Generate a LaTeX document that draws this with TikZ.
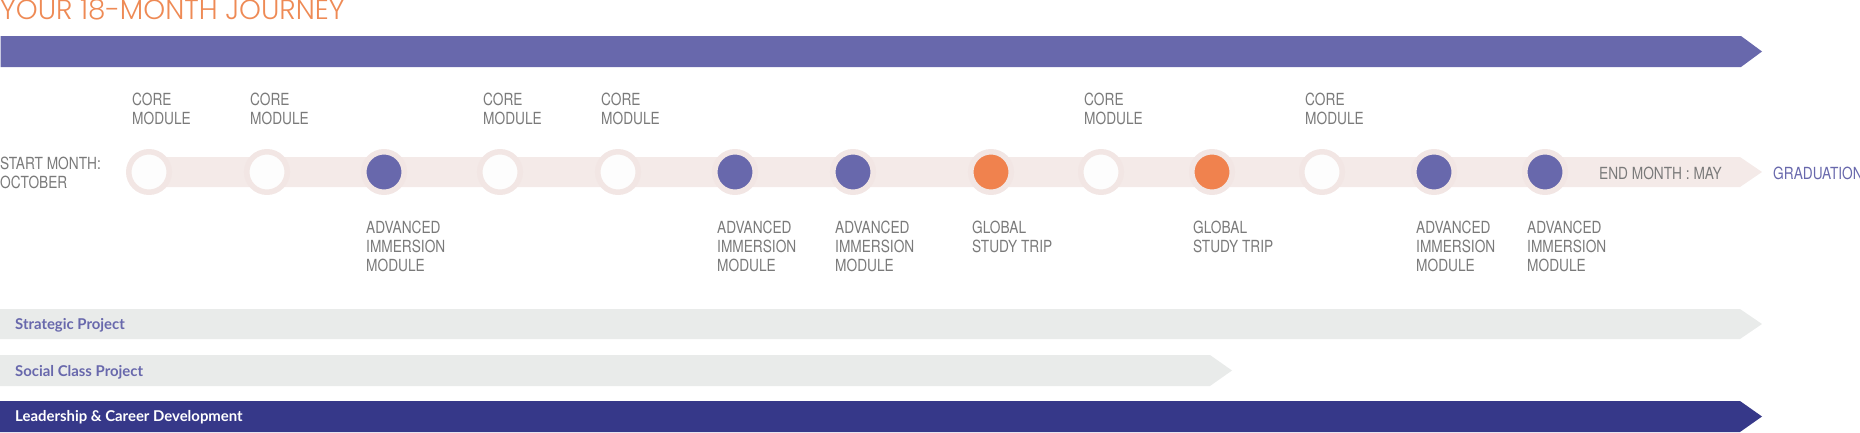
\documentclass[tikz,border=0pt]{standalone}
\usepackage{fontspec}
\newfontfamily\titlefont{Poppins Light}
\newfontfamily\condfont[FakeStretch=0.82]{TeX Gyre Heros}
\newfontfamily\barfont{Lato}
\definecolor{purp}{HTML}{6868AC}
\definecolor{darkpurp}{HTML}{363889}
\definecolor{titleorange}{HTML}{EE8A55}
\definecolor{dotorange}{HTML}{F0824E}
\definecolor{graytext}{HTML}{7A7A7A}
\definecolor{bandc}{HTML}{F4EAE8}
\definecolor{ringc}{HTML}{F2E6E4}
\definecolor{lightbar}{HTML}{E9EBEA}
\definecolor{dotwhite}{HTML}{FDFDFD}
\tikzset{
  milestone/.style={circle, draw=ringc, line width=5.5pt, minimum size=40.5pt, inner sep=0pt},
  whitedot/.style={milestone, fill=dotwhite},
  purpdot/.style={milestone, fill=purp},
  orangedot/.style={milestone, fill=dotorange},
  lbl/.style={font=\condfont\fontsize{16.7}{19}\selectfont, text=graytext, align=left, inner sep=0pt},
  toplbl/.style={lbl, anchor=north west},
  botlbl/.style={lbl, anchor=north west},
  bartext/.style={font=\barfont\bfseries\fontsize{14.9}{18}\selectfont, inner sep=0pt, anchor=base west},
}
\begin{document}
\begin{tikzpicture}[x=1pt,y=-1pt]
\useasboundingbox (0,0) rectangle (1860,432);
% title
\node[font=\titlefont\fontsize{27.8}{30}\selectfont, text=titleorange, inner sep=0pt, anchor=base west] (title) at (0,19.8) {YOUR 18-MONTH JOURNEY};
% top bar
\fill[purp] (0.5,36) -- (1741,36) -- (1762,51.5) -- (1741,67) -- (0.5,67) -- cycle;
% band
\fill[bandc] (149,157) -- (1740,157) -- (1762,172) -- (1740,187) -- (149,187) -- cycle;
% milestones
\node[whitedot]  (c1)  at (149,172) {};
\node[whitedot]  (c2)  at (267,172) {};
\node[purpdot]   (c3)  at (384,172) {};
\node[whitedot]  (c4)  at (500,172) {};
\node[whitedot]  (c5)  at (618,172) {};
\node[purpdot]   (c6)  at (735,172) {};
\node[purpdot]   (c7)  at (853,172) {};
\node[orangedot] (c8)  at (991,172) {};
\node[whitedot]  (c9)  at (1101,172) {};
\node[orangedot] (c10) at (1212,172) {};
\node[whitedot]  (c11) at (1322,172) {};
\node[purpdot]   (c12) at (1434,172) {};
\node[purpdot]   (c13) at (1545,172) {};
% top labels
\node[toplbl] (t1)  at (132,93)  {CORE\\MODULE};
\node[toplbl] (t2)  at (250,93)  {CORE\\MODULE};
\node[toplbl] (t4)  at (483,93)  {CORE\\MODULE};
\node[toplbl] (t5)  at (601,93)  {CORE\\MODULE};
\node[toplbl] (t9)  at (1084,93) {CORE\\MODULE};
\node[toplbl] (t11) at (1305,93) {CORE\\MODULE};
% bottom labels
\node[botlbl] (b3)  at (366,221)  {ADVANCED\\IMMERSION\\MODULE};
\node[botlbl] (b6)  at (717,221)  {ADVANCED\\IMMERSION\\MODULE};
\node[botlbl] (b7)  at (835,221)  {ADVANCED\\IMMERSION\\MODULE};
\node[botlbl] (b8)  at (972,221)  {GLOBAL\\STUDY TRIP};
\node[botlbl] (b10) at (1193,221) {GLOBAL\\STUDY TRIP};
\node[botlbl] (b12) at (1416,221) {ADVANCED\\IMMERSION\\MODULE};
\node[botlbl] (b13) at (1527,221) {ADVANCED\\IMMERSION\\MODULE};
% start / end
\node[lbl, anchor=north west] (start) at (0,157) {START MONTH:\\OCTOBER};
\node[lbl, anchor=west] (endm) at (1599,173) {END MONTH : MAY};
\node[lbl, anchor=west, text=purp] (grad) at (1773,173) {GRADUATION};
% project bars
\fill[lightbar] (0,309) -- (1740,309) -- (1762,324) -- (1740,339) -- (0,339) -- cycle;
\fill[lightbar] (0,355) -- (1210,355) -- (1232,370.5) -- (1210,386) -- (0,386) -- cycle;
\fill[darkpurp] (0,401) -- (1740,401) -- (1762,416.5) -- (1740,432) -- (0,432) -- cycle;
\node[bartext, text=purp] (sp) at (15,329.3) {Strategic Project};
\node[bartext, text=purp] (scp) at (15,376) {Social Class Project};
\node[bartext, text=white] (lcd) at (15,421.7) {Leadership \& Career Development};
\end{tikzpicture}
\end{document}
